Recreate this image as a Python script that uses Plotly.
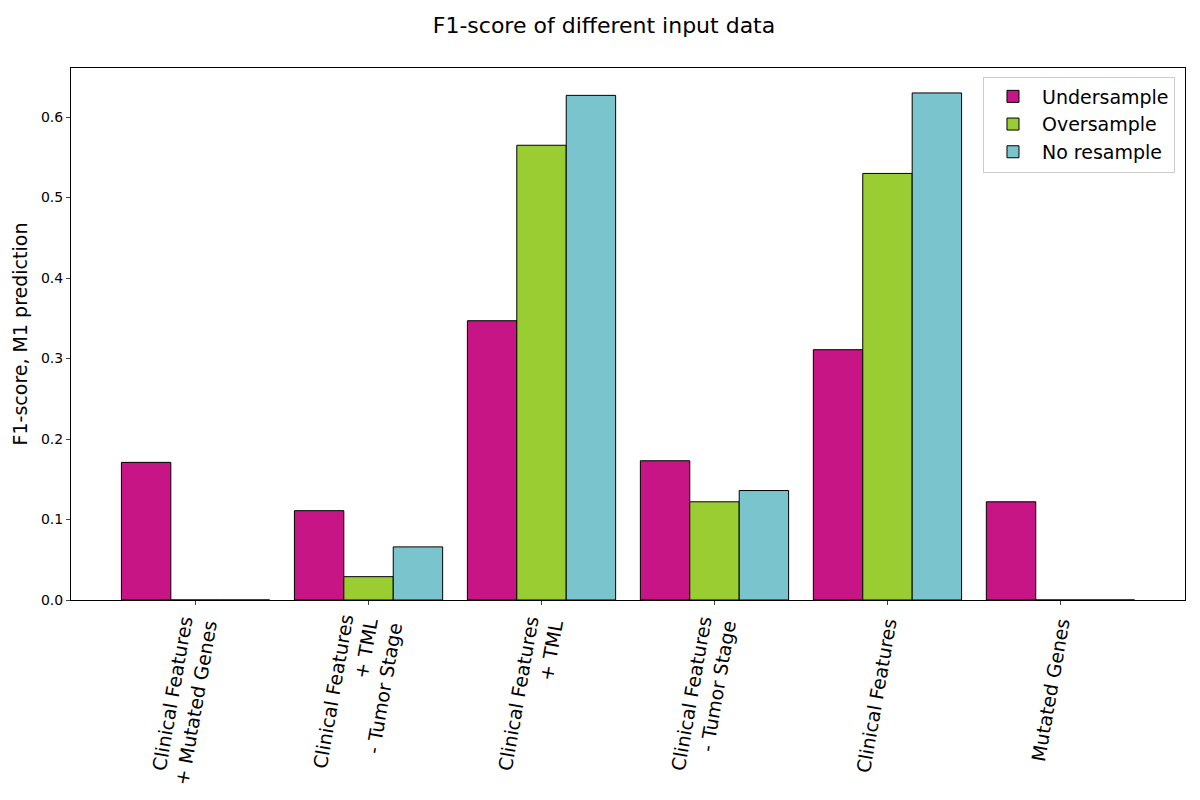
import plotly.graph_objects as go

# input data sets (x categories)
categories = [
    "Clinical Features<br>+ Mutated Genes",
    "Clinical Features<br>+ TML<br>- Tumor Stage",
    "Clinical Features<br>+ TML",
    "Clinical Features<br>- Tumor Stage",
    "Clinical Features",
    "Mutated Genes",
]

# F1-scores
undersample = [0.171, 0.111, 0.347, 0.173, 0.311, 0.122]
oversample = [0.0, 0.029, 0.565, 0.122, 0.530, 0.0]
no_resample = [0.0, 0.066, 0.627, 0.136, 0.630, 0.0]

series_names = ["Undersample", "Oversample", "No resample"]
colors = ["#C71585", "#9ACD32", "#7AC5CD"]

x_pos = list(range(len(categories)))

fig = go.Figure()
for name, vals, col in zip(series_names, [undersample, oversample, no_resample], colors):
    fig.add_trace(go.Bar(
        x=x_pos, y=vals, name=name,
        marker=dict(color=col, line=dict(color="black", width=1)),
    ))

# page has ~8px body margin, so size/margins are trimmed to land on the same pixels
fig.update_layout(
    width=1192, height=792,
    barmode="group", bargap=0.143, bargroupgap=0,
    plot_bgcolor="white", paper_bgcolor="white",
    font=dict(family="DejaVu Sans", color="black"),
    title=dict(text="F1-score of different input data", x=0.5, xanchor="center",
               y=0.978, yanchor="middle", font=dict(size=22)),
    margin=dict(l=63, r=15, t=60, b=200),
    legend=dict(x=0.991, y=0.984, xanchor="right", yanchor="top",
                bordercolor="#cccccc", borderwidth=1, bgcolor="white",
                itemwidth=48, font=dict(size=19)),
)

fig.update_xaxes(
    range=[-0.72, 5.72], automargin=False,
    tickvals=x_pos, ticktext=categories, tickangle=-80,
    tickfont=dict(size=19),
    showline=True, linecolor="black", mirror=True,
    ticks="outside", ticklen=4, showgrid=False,
)
fig.update_yaxes(
    range=[0, 0.661], automargin=False,
    tickvals=[0, 0.1, 0.2, 0.3, 0.4, 0.5, 0.6], tickformat=".1f",
    tickfont=dict(size=14),
    title=dict(text="F1-score, M1 prediction", font=dict(size=19), standoff=8),
    showline=True, linecolor="black", mirror=True,
    ticks="outside", ticklen=4, showgrid=False, zeroline=False,
)

fig.write_html("out.html")
